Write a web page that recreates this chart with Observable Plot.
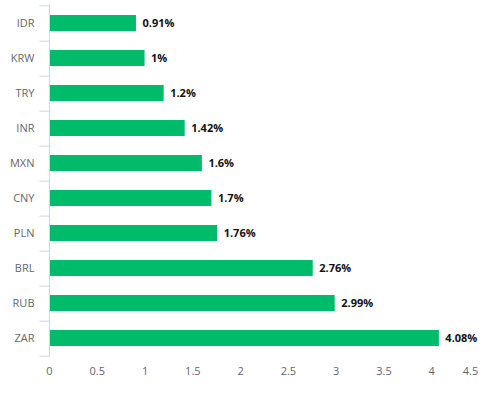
<!DOCTYPE html>
<html><head><meta charset="utf-8">
<script src="https://cdn.jsdelivr.net/npm/d3@7"></script>
<script src="https://cdn.jsdelivr.net/npm/@observablehq/plot@0.6"></script>
<style>body{margin:0;background:#fff}</style>
</head><body><div id="chart"></div>
<script>
const categories = ["IDR","KRW","TRY","INR","MXN","CNY","PLN","BRL","RUB","ZAR"];
const values = [0.91, 1, 1.2, 1.42, 1.6, 1.7, 1.76, 2.76, 2.99, 4.08];
const labels = ["0.91%","1%","1.2%","1.42%","1.6%","1.7%","1.76%","2.76%","2.99%","4.08%"];
const xTicks = [0, 0.5, 1, 1.5, 2, 2.5, 3, 3.5, 4, 4.5];
const data = categories.map((c, i) => ({cat: c, value: values[i], label: labels[i]}));

const W = 504, H = 396, mt = 4, mb = 39, mr = 25, ml = 49;
const step = (H - mt - mb) / categories.length;
const font = "'Open Sans', sans-serif";

const chart = Plot.plot({
  width: W, height: H,
  marginTop: mt, marginBottom: mb, marginLeft: ml, marginRight: mr,
  style: {fontFamily: font, fontSize: "11px", background: "#fff"},
  x: {domain: [0, 4.5], ticks: xTicks, label: null},
  y: {domain: categories, paddingInner: 0.53, paddingOuter: 0.265, label: null},
  marks: [
    Plot.ruleX(xTicks.filter(d => d > 0), {stroke: "#e6e6e6", strokeWidth: 1, strokeOpacity: 1, y1: null}),
    Plot.barX(data, {y: "cat", x: "value", fill: "#00bb6a"}),
    Plot.text(data, {y: "cat", x: "value", text: "label", textAnchor: "start", dx: 6, fontWeight: "bold", fill: "#111", fontSize: 11}),
    Plot.ruleX([0], {stroke: "#ccd6eb"}),
    Plot.ruleY(categories, {y: d => d, x1: -0.1, x2: 0, dy: step / 2, stroke: "#ccd6eb"}),
    Plot.ruleY([categories[0]], {y: d => d, x1: -0.1, x2: 0, dy: -step / 2, stroke: "#ccd6eb"}),
    Plot.axisX(xTicks.slice(0, -1), {tickSize: 0, tickPadding: 10, fill: "#666", fontSize: 11, label: null, tickFormat: d => String(d)}),
    Plot.axisX(xTicks.slice(-1), {tickSize: 0, tickPadding: 10, fill: "#666", fontSize: 11, label: null, dx: -9, tickFormat: d => String(d)}),
    Plot.axisY({tickSize: 0, tickPadding: 15, fill: "#666", fontSize: 11, label: null})
  ]
});
document.getElementById("chart").appendChild(chart);
</script></body></html>
